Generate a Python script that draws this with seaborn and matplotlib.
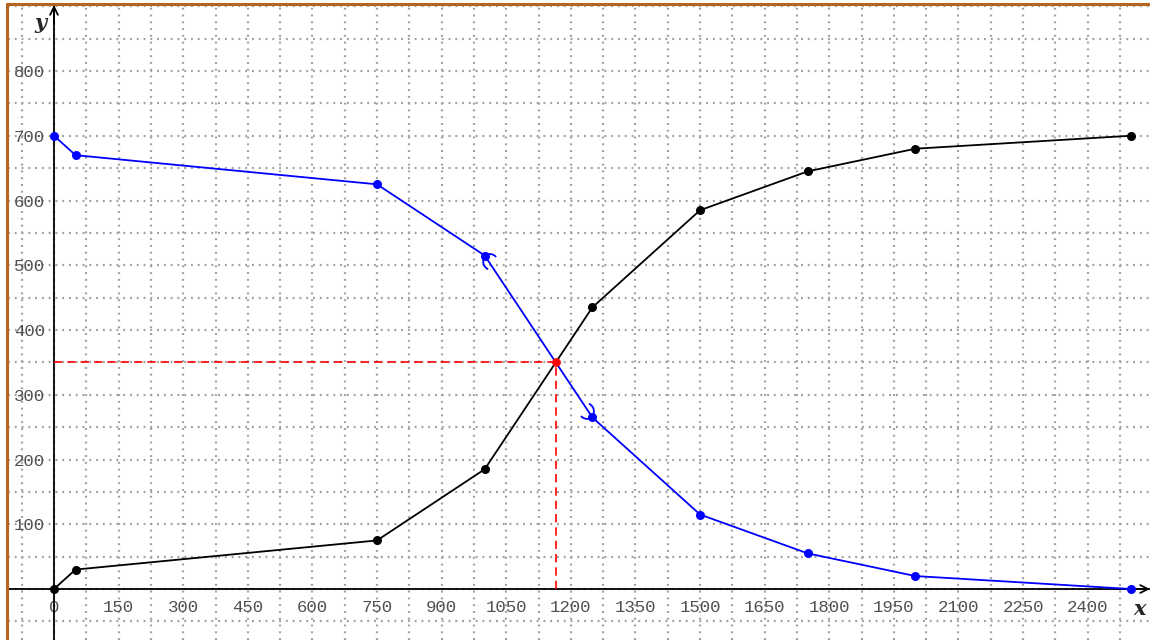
import matplotlib
matplotlib.use("Agg")
import matplotlib.pyplot as plt
import matplotlib.ticker as mticker
from matplotlib.lines import Line2D
from matplotlib.patches import Arc
import seaborn as sns
import pandas as pd

# ---- data ----
x_vals = [0, 50, 750, 1000, 1250, 1500, 1750, 2000, 2500]
increasing = [0, 30, 75, 185, 435, 585, 645, 680, 700]
decreasing = [700, 670, 625, 515, 265, 115, 55, 20, 0]
cross_x = [1165]
cross_y = [350]
x_ticks = list(range(0, 2401, 150))
y_ticks = [100, 200, 300, 400, 500, 600, 700, 800]

sns.set_style("white")
plt.rcParams['font.family'] = ['DejaVu Sans']

W, H = 1150, 640
fig = plt.figure(figsize=(W / 100, H / 100), dpi=100)
left_px, top_px = 8, 5
ax = fig.add_axes([left_px / W, 0, 1 - left_px / W, 1 - top_px / H])

px_x = 0.43071  # px per x-unit
px_y = 0.6475   # px per y-unit
x0_px, y0_px = 54, 589
ax.set_xlim((left_px - x0_px) / px_x, (W - x0_px) / px_x)
ax.set_ylim((y0_px - H) / px_y, (y0_px - top_px) / px_y)

df = pd.DataFrame({"x": x_vals + x_vals,
                   "y": increasing + decreasing,
                   "series": ["inc"] * len(x_vals) + ["dec"] * len(x_vals)})

sns.lineplot(data=df, x="x", y="y", hue="series",
             palette={"inc": "black", "dec": "#0000ff"},
             marker="o", markersize=6.5, markeredgewidth=0, linewidth=1.3,
             legend=False, ax=ax, sort=False, zorder=5)

# red dashed guide lines and intersection point
ax.plot([0, cross_x[0]], [cross_y[0], cross_y[0]], color="red", lw=1.2,
        dashes=(5, 3), zorder=4)
ax.plot([cross_x[0], cross_x[0]], [0, cross_y[0]], color="red", lw=1.2,
        dashes=(5, 3), zorder=4)
ax.scatter(cross_x, cross_y, color="red", s=40, zorder=6, linewidths=0)

# compass arc marks on the blue curve
def arc_px(px, py, dx, dy, r, t1, t2):
    ax.add_patch(Arc((px + dx / px_x, py + dy / px_y), 2 * r / px_x, 2 * r / px_y,
                     theta1=t1, theta2=t2, color="#0000ff", lw=1.3, zorder=5))

p = (x_vals[3], decreasing[3])
arc_px(p[0], p[1], 5, -7, 8.5, 30, 150)
arc_px(p[0], p[1], 7, -6, 8.5, 155, 235)
q = (x_vals[4], decreasing[4])
arc_px(q[0], q[1], -5, 7, 8.5, 210, 330)
arc_px(q[0], q[1], -7, 6, 8.5, 335, 415)

# grid
ax.xaxis.set_major_locator(mticker.FixedLocator(x_ticks))
ax.yaxis.set_major_locator(mticker.FixedLocator(y_ticks))
ax.xaxis.set_minor_locator(mticker.MultipleLocator(75))
ax.yaxis.set_minor_locator(mticker.MultipleLocator(50))
ax.grid(which="both", color="#a0a0a0", linewidth=1.6,
        linestyle=(0, (0.85, 2.2)))
ax.set_axisbelow(True)

# spines through origin
for s in ["top", "right"]:
    ax.spines[s].set_visible(False)
ax.spines["left"].set_position(("data", 0))
ax.spines["bottom"].set_position(("data", 0))
for s in ["left", "bottom"]:
    ax.spines[s].set_color("black")
    ax.spines[s].set_linewidth(1.3)
    ax.spines[s].set_zorder(3)

ax.tick_params(axis="x", which="major", direction="in", length=5.5, width=1.3,
               color="black", labelsize=12.5, labelcolor="#505050", pad=8)
ax.tick_params(axis="y", which="major", direction="inout", length=11, width=1.3,
               color="black", labelsize=12.5, labelcolor="#505050", pad=1)
ax.tick_params(which="minor", length=0)
ax.set_xticklabels([str(v) for v in x_ticks], family="Liberation Mono")
ax.set_yticklabels([str(v) for v in y_ticks], family="Liberation Mono")
ax.set_xlabel("")
ax.set_ylabel("")

# axis arrows
ax.annotate("", xy=(0, 1.0), xycoords=("data", "axes fraction"),
            xytext=(0, 0.97), textcoords=("data", "axes fraction"),
            arrowprops=dict(arrowstyle="->", color="black", lw=1.3,
                            mutation_scale=14, shrinkA=0, shrinkB=0))
ax.annotate("", xy=(1.0, 0), xycoords=("axes fraction", "data"),
            xytext=(0.97, 0), textcoords=("axes fraction", "data"),
            arrowprops=dict(arrowstyle="->", color="black", lw=1.3,
                            mutation_scale=14, shrinkA=0, shrinkB=0))

ax.text(-14 / px_x, 890, "y", ha="center", va="top", fontsize=15,
        style="italic", weight="bold", family="DejaVu Serif")
ax.text(2520, -16, "x", ha="center", va="top", fontsize=15,
        style="italic", weight="bold", family="DejaVu Serif")

# brown frame
frame_color = "#b5651d"
fig.add_artist(Line2D([6.5 / W, 6.5 / W], [0, 1 - 3.5 / H], transform=fig.transFigure,
                      color=frame_color, lw=2.2))
fig.add_artist(Line2D([6.5 / W, 1], [1 - 3.5 / H, 1 - 3.5 / H], transform=fig.transFigure,
                      color=frame_color, lw=2.2))

fig.savefig("out.png", dpi=100)
